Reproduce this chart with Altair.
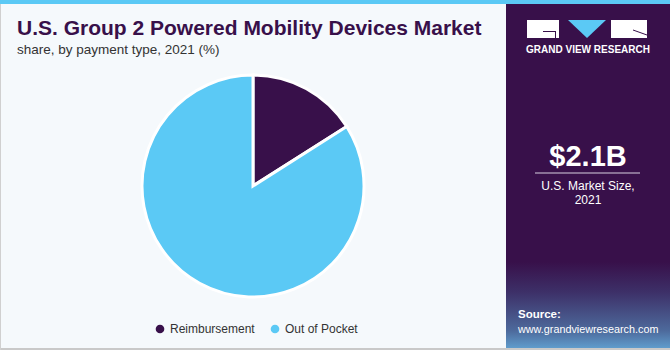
import altair as alt
import pandas as pd

categories = ["Reimbursement", "Out of Pocket"]
shares = [16, 84]
colors = ["#38104a", "#5bc9f5"]

title_text = "U.S. Group 2 Powered Mobility Devices Market"
subtitle_text = "share, by payment type, 2021 (%)"
market_value = "$2.1B"
market_label = ["U.S. Market Size,", "2021"]

PURPLE = "#38104a"
BLUE = "#5bc9f5"

pie_df = pd.DataFrame({"category": categories, "share": shares, "order": [0, 1]})
one = pd.DataFrame({"a": [0]})

color_scale = alt.Scale(domain=categories, range=colors)

pie = alt.Chart(pie_df).mark_arc(stroke="white", strokeWidth=3).encode(
    theta=alt.Theta("share:Q", stack=True),
    order=alt.Order("order:Q"),
    color=alt.Color("category:N", scale=color_scale, legend=None),
    x=alt.value(253), y=alt.value(186), radius=alt.value(111),
)

top_bar = alt.Chart(one).mark_rect(color=BLUE).encode(
    x=alt.value(0), x2=alt.value(670), y=alt.value(0), y2=alt.value(4))
bottom_line = alt.Chart(one).mark_rect(color="#c9c9c9").encode(
    x=alt.value(0), x2=alt.value(670), y=alt.value(348), y2=alt.value(350))
left_line = alt.Chart(one).mark_rect(color="#d0d0d0").encode(
    x=alt.value(0), x2=alt.value(1), y=alt.value(4), y2=alt.value(350))

panel = alt.Chart(one).mark_rect(color=PURPLE).encode(
    x=alt.value(506), x2=alt.value(670), y=alt.value(4), y2=alt.value(348))
panel_grad = alt.Chart(one).mark_rect(
    color=alt.LinearGradient(
        gradient="linear", x1=0, y1=0, x2=0, y2=1,
        stops=[alt.GradientStop(color=PURPLE, offset=0),
               alt.GradientStop(color="#3d3068", offset=0.35),
               alt.GradientStop(color="#4d6a9c", offset=0.8),
               alt.GradientStop(color="#5f9ccc", offset=1)])
).encode(x=alt.value(506), x2=alt.value(670), y=alt.value(262), y2=alt.value(348))

# logo blocks (white) and inner strokes (purple)
logo_blocks = pd.DataFrame({"x": [527, 611], "x2": [559, 647], "y": [20, 20], "y2": [38, 38]})
logo_inner = pd.DataFrame({"x": [543, 555], "x2": [556, 556], "y": [31, 31], "y2": [32, 38]})
logo_white = alt.Chart(logo_blocks).mark_rect(color="white").encode(
    x=alt.X("x:Q", scale=None), x2="x2:Q", y=alt.Y("y:Q", scale=None), y2="y2:Q")
logo_purple = alt.Chart(logo_inner).mark_rect(color=PURPLE).encode(
    x=alt.X("x:Q", scale=None), x2="x2:Q", y=alt.Y("y:Q", scale=None), y2="y2:Q")
logo_tri = alt.Chart(one).mark_point(shape="M-1,-0.47L1,-0.47L0,0.47Z", filled=True, color=BLUE,
                                     opacity=1, size=1444, strokeWidth=0).encode(
    x=alt.value(587), y=alt.value(29))
logo_r = alt.Chart(one).mark_rule(color=PURPLE, strokeWidth=1).encode(
    x=alt.value(633), x2=alt.value(647), y=alt.value(30), y2=alt.value(35))
logo_text = alt.Chart(one).mark_text(
    text="GRAND VIEW RESEARCH", color="white", font="Liberation Sans", fontWeight="bold",
    fontSize=10, align="center", baseline="alphabetic").encode(
    x=alt.value(588), y=alt.value(53))

value_text = alt.Chart(one).mark_text(
    text=market_value, color="white", font="Liberation Sans", fontWeight="bold",
    fontSize=29, align="center", baseline="alphabetic").encode(x=alt.value(588), y=alt.value(166))
value_rule = alt.Chart(one).mark_rule(color="#d8d0e0", strokeWidth=1).encode(
    x=alt.value(535), x2=alt.value(640), y=alt.value(173))
label_df = pd.DataFrame({"t": market_label, "y": [190, 204]})
label_text = alt.Chart(label_df).mark_text(
    color="white", font="Liberation Sans", fontSize=12, align="center", baseline="alphabetic").encode(
    text="t:N", x=alt.value(588), y=alt.Y("y:Q", scale=None))

src1 = alt.Chart(one).mark_text(
    text="Source:", color="white", font="Liberation Sans", fontWeight="bold", fontSize=11.5,
    align="left", baseline="alphabetic").encode(x=alt.value(518), y=alt.value(318))
src2 = alt.Chart(one).mark_text(
    text="www.grandviewresearch.com", color="white", font="Liberation Sans", fontSize=10.8,
    align="left", baseline="alphabetic").encode(x=alt.value(518), y=alt.value(333))

title = alt.Chart(one).mark_text(
    text=title_text, color=PURPLE, font="Liberation Sans", fontWeight="bold", fontSize=21,
    align="left", baseline="alphabetic").encode(x=alt.value(17), y=alt.value(35))
subtitle = alt.Chart(one).mark_text(
    text=subtitle_text, color="#333333", font="Liberation Sans", fontSize=13.5,
    align="left", baseline="alphabetic").encode(x=alt.value(17), y=alt.value(54))

leg_df = pd.DataFrame({"category": categories, "px": [160, 275]})
leg_dots = alt.Chart(leg_df).mark_circle(size=75, opacity=1).encode(
    x=alt.X("px:Q", scale=None), y=alt.value(329),
    color=alt.Color("category:N", scale=color_scale, legend=None))
leg_text = alt.Chart(leg_df).mark_text(
    font="Liberation Sans", fontSize=12, color="#333333", align="left", baseline="middle", dx=10).encode(
    x=alt.X("px:Q", scale=None), text="category:N", y=alt.value(329))

chart = alt.layer(
    top_bar, bottom_line, left_line, panel, panel_grad, value_text, value_rule, label_text, src1, src2,
    title, subtitle, pie, leg_dots, leg_text, logo_white, logo_purple, logo_tri, logo_r, logo_text
).properties(
    width=670, height=350, background="#f5f9fc", padding=0,
    autosize=alt.AutoSizeParams(type="none")
).configure_view(stroke=None)

chart.save("out.html", embed_options={"renderer": "svg", "actions": False})
